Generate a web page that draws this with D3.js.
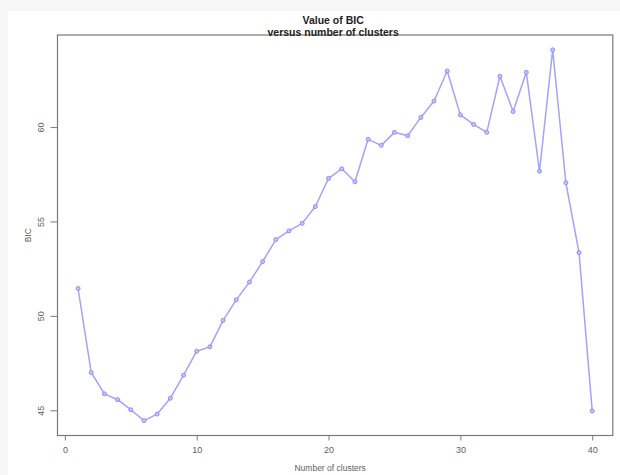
<!DOCTYPE html>
<html>
<head>
<meta charset="utf-8">
<script src="https://cdn.jsdelivr.net/npm/d3@7"></script>
<style>
  html, body { margin: 0; padding: 0; background: #ffffff; }
  svg { display: block; }
  text { font-family: "Liberation Sans", Arial, sans-serif; }
</style>
</head>
<body>
<svg id="chart" width="620" height="475"></svg>
<script>
// Number of clusters tried
const clusters = d3.range(1, 41);
// BIC value for each number of clusters
const bic = [
  51.45, 47.00, 45.87, 45.56, 45.03, 44.45, 44.80, 45.64, 46.86, 48.13,
  48.36, 49.76, 50.85, 51.79, 52.87, 54.04, 54.50, 54.90, 55.79, 57.28,
  57.79, 57.10, 59.35, 59.03, 59.72, 59.54, 60.51, 61.38, 62.97, 60.64,
  60.14, 59.72, 62.69, 60.82, 62.90, 57.66, 64.09, 57.05, 53.35, 44.96
];
const xTicks = [0, 10, 20, 30, 40];
const yTicks = [45, 50, 55, 60];
const titleLines = ["Value of BIC", "versus number of clusters"];
const xTitle = "Number of clusters";
const yTitle = "BIC";

const svg = d3.select("#chart");
const W = 620, H = 475;
const plot = { left: 57.5, right: 612.8, top: 35, bottom: 435.5 };

// page frame: pale strip along the top and the left
svg.append("rect").attr("x", 0).attr("y", 0).attr("width", W).attr("height", H).attr("fill", "#f6f6f6");
svg.append("rect").attr("x", 8).attr("y", 11).attr("width", W - 8).attr("height", H - 11).attr("fill", "#ffffff");

// domains padded by 4% as in base graphics
function padded(ext) {
  const p = (ext[1] - ext[0]) * 0.04;
  return [ext[0] - p, ext[1] + p];
}
const x = d3.scaleLinear().domain(padded(d3.extent(clusters))).range([plot.left, plot.right]);
const y = d3.scaleLinear().domain(padded(d3.extent(bic))).range([plot.bottom, plot.top]);

const axisColor = "#7a7a7a";

// x axis
const gx = svg.append("g")
  .attr("transform", `translate(0,${plot.bottom})`)
  .call(d3.axisBottom(x).tickValues(xTicks).tickSize(5).tickPadding(6).tickFormat(d3.format("d")));
gx.select(".domain").remove();
gx.selectAll("line").attr("stroke", axisColor);
gx.selectAll("text").attr("fill", "#606060").attr("font-size", 9);

// y axis, labels turned parallel to the axis
const gy = svg.append("g")
  .attr("transform", `translate(${plot.left},0)`)
  .call(d3.axisLeft(y).tickValues(yTicks).tickSize(7).tickFormat(d3.format("d")));
gy.select(".domain").remove();
gy.selectAll("line").attr("stroke", axisColor);
gy.selectAll("text")
  .attr("fill", "#606060").attr("font-size", 9)
  .attr("text-anchor", "middle")
  .attr("x", 0).attr("dy", 0)
  .attr("transform", "translate(-16,0) rotate(-90)")
  .attr("dominant-baseline", "middle");

// plot box
svg.append("rect")
  .attr("x", plot.left).attr("y", plot.top)
  .attr("width", plot.right - plot.left).attr("height", plot.bottom - plot.top)
  .attr("fill", "none").attr("stroke", axisColor).attr("stroke-width", 1.2);

// series line
const lineColor = "#a2a2ff";
svg.append("path")
  .datum(clusters.map((c, i) => [c, bic[i]]))
  .attr("fill", "none")
  .attr("stroke", lineColor)
  .attr("stroke-width", 1.5)
  .attr("stroke-linejoin", "round")
  .attr("d", d3.line().x(d => x(d[0])).y(d => y(d[1])));

// point markers
svg.append("g").selectAll("circle")
  .data(clusters.map((c, i) => [c, bic[i]]))
  .join("circle")
  .attr("cx", d => x(d[0]))
  .attr("cy", d => y(d[1]))
  .attr("r", 2)
  .attr("fill", "#c4c4ff")
  .attr("stroke", "#8686f4")
  .attr("stroke-width", 0.9);

// titles
const cx = (plot.left + plot.right) / 2;
svg.append("g").selectAll("text")
  .data(titleLines)
  .join("text")
  .attr("x", cx - 2)
  .attr("y", (d, i) => 24 + i * 11.5)
  .attr("text-anchor", "middle")
  .attr("font-size", 10.5)
  .attr("font-weight", "bold")
  .attr("fill", "#222")
  .text(d => d);

svg.append("text")
  .attr("x", cx - 5).attr("y", 471)
  .attr("text-anchor", "middle")
  .attr("font-size", 8.5).attr("fill", "#606060")
  .text(xTitle);

svg.append("text")
  .attr("transform", `translate(31,${(plot.top + plot.bottom) / 2}) rotate(-90)`)
  .attr("text-anchor", "middle")
  .attr("font-size", 8.5).attr("fill", "#606060")
  .text(yTitle);
</script>
</body>
</html>
